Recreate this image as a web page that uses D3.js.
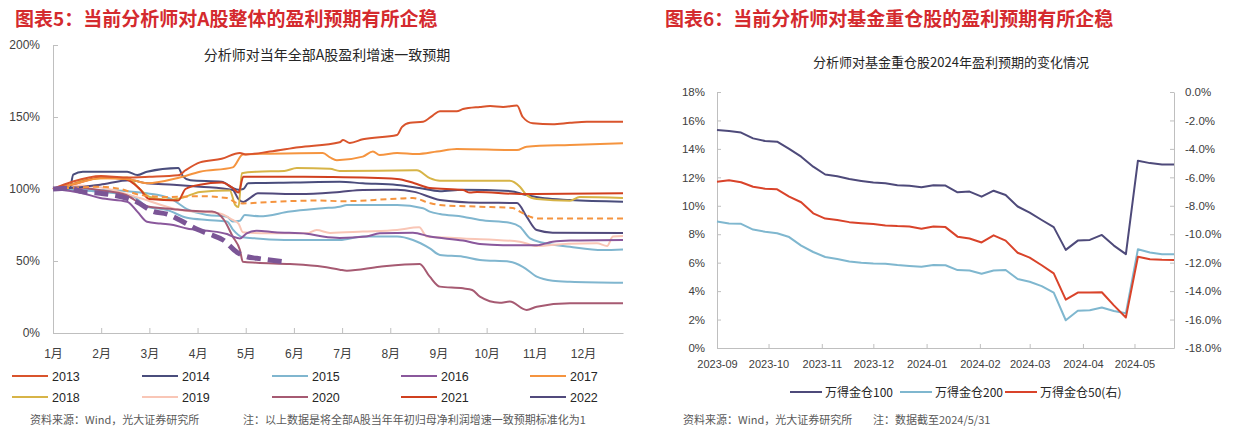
<!DOCTYPE html>
<html><head><meta charset="utf-8">
<script src="https://cdn.jsdelivr.net/npm/d3@7"></script>
<style>body{margin:0;background:#fff}svg{display:block}</style>
</head><body><svg id="c" width="1240" height="426"></svg>
<script>
// ---------------- Left chart data ----------------
const months = ["1月","2月","3月","4月","5月","6月","7月","8月","9月","10月","11月","12月"];
const yTicksLeft = [0,50,100,150,200];
const legendYears = ["2013","2014","2015","2016","2017","2018","2019","2020","2021","2022"];
// [month position, value %]
const s2013 = [[0,100],[0.4,105],[1,109],[1.5,108],[2,108.5],[2.6,109.5],[2.75,113],[3.05,118.5],[3.5,121],[3.88,125],[4,124],[4.5,126],[5.1,129],[5.95,132.5],[6.02,134],[6.16,132],[6.43,134.5],[7.14,137.5],[7.24,143],[7.41,146],[7.68,146.7],[7.88,151],[8.03,154],[8.38,154],[8.51,155.5],[8.86,157],[9.07,157.6],[9.34,157],[9.63,158],[9.75,150],[9.96,145.6],[10.37,145],[10.73,146],[11.08,146.7],[11.83,146.7]];
const s2014 = [[0,100],[0.35,100.5],[0.42,110],[0.62,112],[1.54,112],[1.75,109.7],[1.95,112],[2.6,114.6],[2.7,108.6],[2.85,106],[3.5,105],[3.73,100.7],[3.85,99.5],[3.95,100],[4.05,104],[5,104.5],[5.95,105],[6.43,104],[7.14,102.8],[7.6,100.7],[8.03,98.5],[8.5,99.5],[9.5,98.5],[9.8,96],[10.2,93.5],[10.73,92.4],[11.83,91.2]];
const s2015 = [[0,100],[0.5,99.5],[1.3,99],[1.95,97],[2.16,96],[2.49,92.4],[2.78,86],[3.2,82],[3.61,80.8],[3.73,77.5],[3.88,78],[3.98,82],[4.29,81],[4.92,84.3],[5.6,86.6],[5.95,87.7],[6.1,88.9],[7.14,88.9],[7.68,86.6],[7.82,84.3],[8.03,82.6],[8.51,80.8],[8.86,78.5],[9.48,76.6],[9.69,73.8],[9.9,65.7],[10.17,62.7],[10.73,59.9],[11.41,57.6],[11.83,58]];
const s2016 = [[0,100],[0.62,97],[0.98,93.7],[1.54,91.2],[1.75,84.3],[1.95,77.3],[2.23,76],[2.5,75],[2.78,72.5],[3.2,71],[3.61,68.7],[3.73,67],[3.88,65.7],[4.02,69.2],[4.23,71],[4.6,70],[5.27,69],[5.6,67],[5.95,66],[6.5,67],[6.78,69.2],[7.47,69.6],[7.82,67],[8.51,64.2],[8.86,61.8],[9.34,61],[10.04,61],[10.37,63.4],[10.73,64.2],[11.83,64.6]];
const s2017 = [[0,100],[0.5,104],[0.98,107.5],[1.54,107],[1.95,104],[2.63,108],[3.05,112],[3.73,115],[3.94,124],[4.5,124.5],[5.6,125],[5.75,122],[5.89,120],[6.43,122.5],[6.64,126],[6.78,123.6],[7.14,125],[7.55,124.3],[7.97,126],[8.38,127.8],[9.63,127],[9.83,129.4],[10.73,130.6],[11.83,131.7]];
const s2018 = [[0,100],[0.3,102],[0.62,106],[1.0,107.5],[1.54,108],[1.8,100],[2.01,94.5],[2.4,92.5],[2.7,94],[3.05,98],[3.67,99],[3.78,89],[3.85,87.5],[3.92,111],[4.23,112],[4.8,112.5],[5.06,114.6],[5.75,114],[5.95,112.5],[7.55,113],[7.82,107.6],[8.03,105.8],[9.48,105.8],[9.69,101.6],[9.83,95.8],[10.04,93],[10.73,91.9],[10.93,94.4],[11.83,93.7]];
const s2019 = [[0,100],[0.3,102.8],[1.0,101],[1.8,93.7],[2.63,85.4],[3.46,83],[3.73,78.5],[3.85,76],[3.94,70],[4.45,69.2],[5.27,69.2],[5.47,71.5],[5.75,69.5],[6.43,70.4],[7.14,71.5],[7.6,73.4],[7.76,67],[8.51,65.7],[9.69,63.4],[10.04,60.4],[10.7,62],[11.29,62.3],[11.5,60.4],[11.62,67],[11.83,67.4]];
const s2020 = [[0,100],[0.5,101],[1.0,99],[1.5,96],[1.95,88],[2.5,86],[3.05,84.5],[3.3,84.3],[3.55,78.5],[3.73,67],[3.88,57.6],[3.94,49.5],[4.23,48.8],[4.92,47.9],[5.6,46],[5.95,44],[6.1,43.3],[6.78,46],[7.61,47.9],[7.82,39.1],[8.03,32.2],[8.51,31],[8.7,29.9],[8.86,25.2],[9.27,21],[9.48,21.8],[9.83,16],[10.04,18.3],[10.73,20.6],[11.83,20.6]];
const s2021 = [[0,100],[0.5,104],[1,108],[1.5,107],[1.8,100],[2.0,93],[2.6,92],[2.75,100],[3.05,103],[3.5,104.5],[3.73,100.7],[3.85,97.5],[3.95,108.5],[5,108.5],[5.75,108.3],[7.14,107],[7.5,104],[7.82,100.7],[8.51,99.3],[8.65,97.5],[8.8,98],[9.69,96.5],[11.83,97]];
const s2022 = [[0,100],[0.5,101],[0.98,103],[1.6,106],[1.95,104],[2.5,103],[3.05,101.6],[3.73,99.3],[3.85,93],[3.95,91],[4.1,94],[4.25,97],[5.12,96.5],[5.95,98],[6.43,99.3],[7.14,99.5],[7.5,98],[8.03,92.4],[8.86,90.5],[9.63,90.3],[9.83,80.8],[10.04,71.5],[10.37,69.7],[11.83,69.4]];
const sExtraBlue = [[0,100],[0.98,98],[1.67,94.7],[1.95,87.7],[2.37,85.4],[2.78,80],[3.2,78.5],[3.61,77.5],[3.73,72],[3.94,66.5],[4.23,65.7],[4.92,64.5],[5.95,64.5],[6.43,67],[7.14,67],[7.47,64.6],[7.82,58.8],[8.03,54.2],[8.51,53],[8.86,50.7],[9.48,49.5],[9.75,46],[10.04,39.1],[10.37,36.3],[10.73,35.6],[11.83,34.9]];
const s2023 = [[0,100],[0.5,101],[0.98,101.6],[1.4,100],[1.8,96],[2.37,94.4],[3.05,95],[3.61,93.7],[3.82,90.3],[3.94,90],[4.5,91],[5.54,92],[6,91.5],[7.0,93],[7.47,93.7],[7.82,90.2],[8.03,88.9],[8.86,87.7],[9.54,86.8],[9.69,84.3],[9.9,80.8],[10.04,79.6],[11.83,79.6]];
const s2024 = [[0,100],[0.35,100.5],[0.62,98],[0.98,97],[1.54,93.5],[1.74,91],[2.07,84.5],[2.37,82.5],[2.63,78.5],[2.99,72],[3.26,68.5],[3.53,64.6],[3.82,56],[4.02,53],[4.23,51.9],[4.77,49.5]];

// ---------------- Right chart data ----------------
const weekDates = ["2023-09-01","2023-09-08","2023-09-15","2023-09-22","2023-09-29","2023-10-06","2023-10-13","2023-10-20","2023-10-27","2023-11-03","2023-11-10","2023-11-17","2023-11-24","2023-12-01","2023-12-08","2023-12-15","2023-12-22","2023-12-29","2024-01-05","2024-01-12","2024-01-19","2024-01-26","2024-02-02","2024-02-09","2024-02-16","2024-02-23","2024-03-01","2024-03-08","2024-03-15","2024-03-22","2024-03-29","2024-04-05","2024-04-12","2024-04-19","2024-04-26","2024-05-03","2024-05-10","2024-05-17","2024-05-24"];
const wind100 = [15.33,15.25,15.15,14.74,14.55,14.51,14.0,13.45,12.75,12.2,12.08,11.88,11.75,11.63,11.58,11.45,11.4,11.3,11.45,11.42,10.95,11.0,10.64,11.06,10.76,9.95,9.52,9.0,8.5,6.9,7.55,7.6,7.95,7.2,6.6,13.17,13.0,12.9,12.9];
const wind200 = [8.89,8.76,8.73,8.33,8.17,8.07,7.8,7.2,6.75,6.4,6.26,6.08,6.0,5.95,5.93,5.83,5.77,5.72,5.84,5.82,5.48,5.45,5.22,5.45,5.48,4.85,4.66,4.35,3.9,1.95,2.62,2.65,2.85,2.6,2.45,6.94,6.72,6.59,6.59];
const wind50 = [-6.31,-6.2,-6.35,-6.66,-6.8,-6.84,-7.35,-7.75,-8.53,-8.9,-9.0,-9.15,-9.22,-9.28,-9.38,-9.43,-9.45,-9.62,-9.45,-9.5,-10.17,-10.3,-10.58,-10.08,-10.45,-11.3,-11.65,-12.18,-12.75,-14.6,-14.1,-14.1,-14.08,-15.0,-15.85,-11.58,-11.76,-11.8,-11.81];
const yTicksR1 = [0,2,4,6,8,10,12,14,16,18];
const yTicksR2 = [-18,-16,-14,-12,-10,-8,-6,-4,-2,0];
const rightLegend = ["万得金仓100","万得金仓200","万得金仓50(右)"];

// ---------------- Drawing ----------------
const svg = d3.select("#c");
svg.append("rect").attr("width",1240).attr("height",426).attr("fill","#fff");
const NUM = "Liberation Sans, Noto Sans CJK SC, sans-serif";
const CJK = "Noto Sans CJK SC, sans-serif";

function styleAxis(g, fs){
  g.select(".domain").attr("stroke","#bfbfbf").attr("stroke-width",1);
  g.selectAll(".tick line").attr("stroke","#bfbfbf");
  g.selectAll("text").attr("fill","#404040").attr("font-size",fs).attr("font-family",NUM);
}

// titles
svg.append("text").attr("x",15).attr("y",26).attr("fill","#d42a2e").attr("font-size",19).attr("font-weight","bold").attr("font-family",CJK).text("图表5：当前分析师对A股整体的盈利预期有所企稳");
svg.append("text").attr("x",665).attr("y",26).attr("fill","#d42a2e").attr("font-size",19).attr("font-weight","bold").attr("font-family",CJK).text("图表6：当前分析师对基金重仓股的盈利预期有所企稳");

// ---- left chart ----
const x1 = d3.scaleLinear().domain([0,11.83]).range([53,623]);
const y1 = d3.scaleLinear().domain([0,200]).range([333,45]);

svg.append("text").attr("x",327).attr("y",60).attr("text-anchor","middle").attr("font-size",14).attr("fill","#262626").attr("font-family",CJK).text("分析师对当年全部A股盈利增速一致预期");

const gy1 = svg.append("g").attr("transform","translate(53,0)")
  .call(d3.axisLeft(y1).tickValues(yTicksLeft).tickFormat(d=>d+"%").tickSize(-5).tickSizeOuter(0).tickPadding(13));
styleAxis(gy1,12);
const gx1 = svg.append("g").attr("transform","translate(0,333)")
  .call(d3.axisBottom(x1).tickValues(d3.range(12)).tickFormat(i=>months[i]).tickSize(-5).tickSizeOuter(0).tickPadding(16));
styleAxis(gx1,12);

const leftSeries = [
  {d:sExtraBlue,c:"#80b6cf",w:2},
  {d:s2015,c:"#80b6cf",w:2},
  {d:s2019,c:"#f9c6b6",w:2},
  {d:s2020,c:"#a65a72",w:2},
  {d:s2016,c:"#8a589c",w:2},
  {d:s2022,c:"#514a7c",w:2},
  {d:s2014,c:"#4a4d7c",w:2},
  {d:s2018,c:"#d7b447",w:2},
  {d:s2021,c:"#d0401f",w:2},
  {d:s2017,c:"#f5943f",w:2},
  {d:s2013,c:"#d9542c",w:2},
  {d:s2023,c:"#f5943f",w:2,dash:"6,4"},
  {d:s2024,c:"#7b5596",w:5,dash:"14,7"}
];
const line1 = d3.line().x(d=>x1(d[0])).y(d=>y1(d[1])).curve(d3.curveMonotoneX);
svg.append("g").selectAll("path").data(leftSeries).join("path")
  .attr("d",s=>line1(s.d)).attr("fill","none").attr("stroke",s=>s.c)
  .attr("stroke-width",s=>s.w).attr("stroke-dasharray",s=>s.dash||null)
  .attr("stroke-linejoin","round");

// left legend
const legendColors = {"2013":"#d9542c","2014":"#4a4d7c","2015":"#80b6cf","2016":"#8a589c","2017":"#f5943f","2018":"#d7b447","2019":"#f9c6b6","2020":"#a65a72","2021":"#d0401f","2022":"#514a7c"};
const colX = [12,142,272,401,530];
const rowY = [376,397];
legendYears.forEach((yr,i)=>{
  const cx = colX[i%5], cy = rowY[Math.floor(i/5)];
  svg.append("line").attr("x1",cx).attr("x2",cx+36).attr("y1",cy).attr("y2",cy).attr("stroke",legendColors[yr]).attr("stroke-width",2);
  svg.append("text").attr("x",cx+40).attr("y",cy+4.5).attr("font-size",12.5).attr("fill","#262626").attr("font-family",NUM).text(yr);
});

svg.append("text").attr("x",30).attr("y",424).attr("font-size",11).attr("fill","#595959").attr("font-family",CJK).text("资料来源：Wind，光大证券研究所");
svg.append("text").attr("x",243).attr("y",424).attr("font-size",11).attr("fill","#595959").attr("font-family",CJK).text("注：以上数据是将全部A股当年年初归母净利润增速一致预期标准化为1");

// ---- right chart ----
const parse = d3.timeParse("%Y-%m-%d");
const dates = weekDates.map(parse);
const x2 = d3.scaleTime().domain([parse("2023-09-01"),parse("2024-05-24")]).range([717,1174]);
const yL = d3.scaleLinear().domain([0,18]).range([348,92]);
const yR = d3.scaleLinear().domain([-18,0]).range([348,92]);

svg.append("text").attr("x",951).attr("y",67).attr("text-anchor","middle").attr("font-size",13).attr("fill","#262626").attr("font-family",CJK).text("分析师对基金重仓股2024年盈利预期的变化情况");

const gyL = svg.append("g").attr("transform","translate(717,0)")
  .call(d3.axisLeft(yL).tickValues(yTicksR1).tickFormat(d=>d+"%").tickSize(-4).tickSizeOuter(0).tickPadding(12));
styleAxis(gyL,11.5);
const gyR = svg.append("g").attr("transform","translate(1174,0)")
  .call(d3.axisRight(yR).tickValues(yTicksR2).tickFormat(d=>d.toFixed(1)+"%").tickSize(-4).tickSizeOuter(0).tickPadding(11));
styleAxis(gyR,11.5);
const monthTicks = d3.timeMonth.range(parse("2023-09-01"),parse("2024-05-02"));
const gx2 = svg.append("g").attr("transform","translate(0,348)")
  .call(d3.axisBottom(x2).tickValues(monthTicks).tickFormat(d3.timeFormat("%Y-%m")).tickSize(-4).tickSizeOuter(0).tickPadding(12));
styleAxis(gx2,11);

const lineL = d3.line().x((d,i)=>x2(dates[i])).y(d=>yL(d));
const lineR = d3.line().x((d,i)=>x2(dates[i])).y(d=>yR(d));
const rColors = ["#4e4a7a","#7fb7cf","#d9432a"];
svg.append("path").attr("d",lineL(wind200)).attr("fill","none").attr("stroke",rColors[1]).attr("stroke-width",2).attr("stroke-linejoin","round");
svg.append("path").attr("d",lineR(wind50)).attr("fill","none").attr("stroke",rColors[2]).attr("stroke-width",2).attr("stroke-linejoin","round");
svg.append("path").attr("d",lineL(wind100)).attr("fill","none").attr("stroke",rColors[0]).attr("stroke-width",2).attr("stroke-linejoin","round");

const rLegX = [790,900,1005];
rightLegend.forEach((nm,i)=>{
  svg.append("line").attr("x1",rLegX[i]).attr("x2",rLegX[i]+32).attr("y1",392).attr("y2",392).attr("stroke",rColors[i]).attr("stroke-width",2);
  svg.append("text").attr("x",rLegX[i]+35).attr("y",396.5).attr("font-size",12).attr("fill","#262626").attr("font-family",CJK).text(nm);
});

svg.append("text").attr("x",683).attr("y",424).attr("font-size",11).attr("fill","#595959").attr("font-family",CJK).text("资料来源：Wind，光大证券研究所");
svg.append("text").attr("x",873).attr("y",424).attr("font-size",11).attr("fill","#595959").attr("font-family",CJK).text("注：数据截至2024/5/31");
</script></body></html>
